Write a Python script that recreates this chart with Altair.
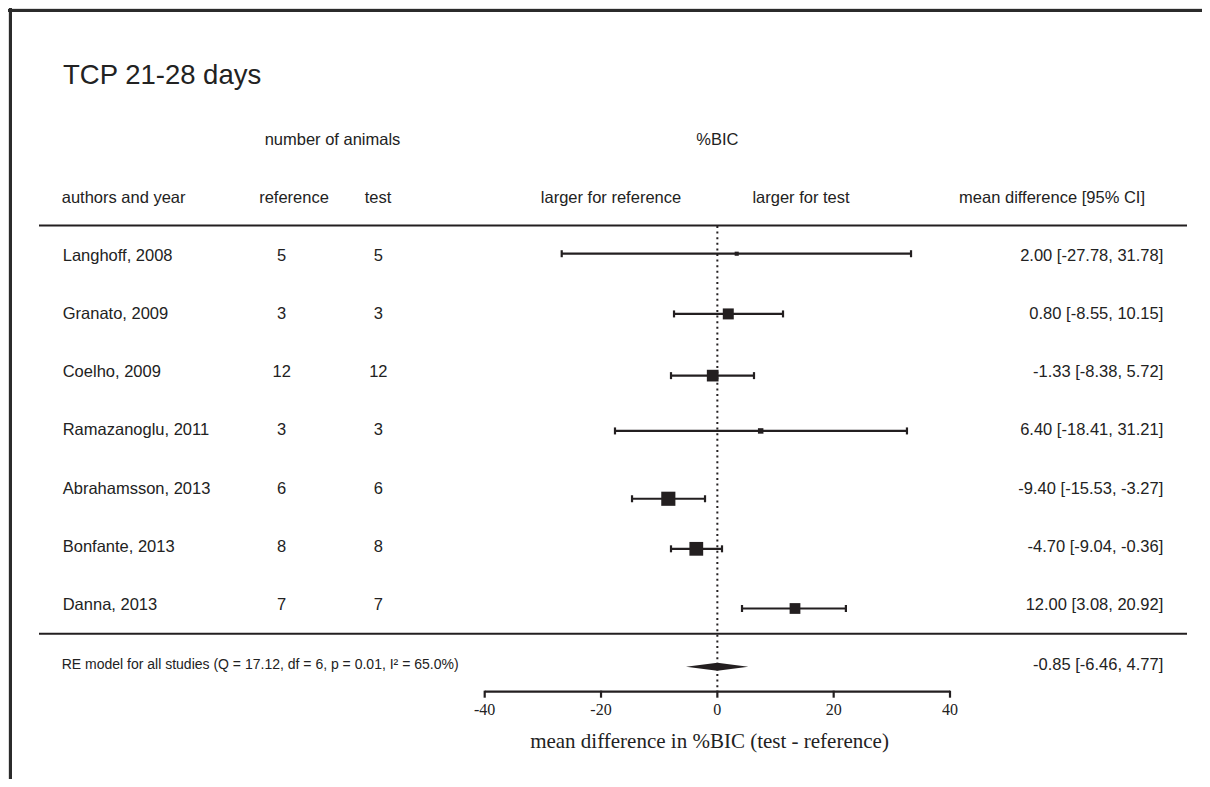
import altair as alt
import pandas as pd

# ---------------- data ----------------
studies = ["Langhoff, 2008", "Granato, 2009", "Coelho, 2009", "Ramazanoglu, 2011",
           "Abrahamsson, 2013", "Bonfante, 2013", "Danna, 2013"]
n_reference = [5, 3, 12, 3, 6, 8, 7]
n_test = [5, 3, 12, 3, 6, 8, 7]
ci_text = ["2.00 [-27.78, 31.78]", "0.80 [-8.55, 10.15]", "-1.33 [-8.38, 5.72]",
           "6.40 [-18.41, 31.21]", "-9.40 [-15.53, -3.27]", "-4.70 [-9.04, -0.36]",
           "12.00 [3.08, 20.92]"]
text_row = [1, 2, 3, 4, 5, 6, 7]
# positions of the drawn markers
estimate = [3.33, 1.88, -0.80, 7.45, -8.43, -3.62, 13.35]
ci_low = [-26.76, -7.45, -7.97, -17.60, -14.67, -7.97, 4.24]
ci_high = [33.30, 11.29, 6.30, 32.60, -2.12, 0.80, 22.10]
weight = [2.1, 14.9, 16.9, 3.7, 24.7, 23.4, 14.3]
mark_row = [0.966, 2.0, 3.06, 4.01, 5.175, 6.035, 7.06]

re_label = "RE model for all studies (Q = 17.12, df = 6, p = 0.01, I\u00b2 = 65.0%)"
re_ci_text = "-0.85 [-6.46, 4.77]"
re_text_row = 8.03
re_row = 8.06
re_estimate = 0.0
re_low = -5.39
re_high = 5.32

x_ticks = [-40, -20, 0, 20, 40]
x_tick_labels = ["-40", "-20", "0", "20", "40"]
title_text = "TCP 21-28 days"
axis_title = "mean difference in %BIC (test - reference)"

# ---------------- styling ----------------
SANS = "Liberation Sans"
SERIF = "Liberation Serif"
INK = "#231f20"
TXT = "#222222"
W, H = 1194, 771
ROW_PX = 58.22
AXIS_Y = 683.7
LW = 2.2

XS = alt.Scale(domain=[-40, 40], range=[476.7, 942.0], nice=False, zero=False)
YS = alt.Scale(domain=[1, 7], range=[247.7, 597.0], nice=False, zero=False)

df = pd.DataFrame({
    "study": studies, "nref": n_reference, "ntest": n_test, "ci": ci_text,
    "trow": text_row, "est": estimate, "lo": ci_low, "hi": ci_high,
    "w": weight, "mrow": mark_row,
})

half = 4.0 / ROW_PX
diamond = pd.DataFrame({
    "x": [re_low, re_estimate, re_high],
    "y": [re_row, re_row - half, re_row],
    "y2": [re_row, re_row + half, re_row],
})
re_df = pd.DataFrame({"label": [re_label], "ci": [re_ci_text], "row": [re_text_row]})
ticks_df = pd.DataFrame({"tick": x_ticks, "lab": x_tick_labels})
axis_df = pd.DataFrame({"a": [x_ticks[0]], "b": [x_ticks[-1]]})
zero_df = pd.DataFrame({"z": [0]})


def label(text, x, y, size, align="center", font=SANS, baseline="middle"):
    return alt.Chart(pd.DataFrame({"t": [text]})).mark_text(
        align=align, baseline=baseline, fontSize=size, font=font, color=TXT
    ).encode(x=alt.value(x), y=alt.value(y), text="t:N")


def hline(y, x1, x2, width=2, color=INK):
    return alt.Chart(pd.DataFrame({"d": [0]})).mark_rule(
        strokeWidth=width, color=color
    ).encode(x=alt.value(x1), x2=alt.value(x2), y=alt.value(y))


def vline(x, y1, y2, width=3, color=INK):
    return alt.Chart(pd.DataFrame({"d": [0]})).mark_rule(
        strokeWidth=width, color=color
    ).encode(x=alt.value(x), y=alt.value(y1), y2=alt.value(y2))


# x axis drawn from the scale
axis_line = alt.Chart(axis_df).mark_rule(strokeWidth=LW, color=INK).encode(
    x=alt.X("a:Q", scale=XS, axis=None), x2="b:Q", y=alt.value(AXIS_Y))
axis_ticks = alt.Chart(ticks_df).mark_rule(strokeWidth=LW, color=INK).encode(
    x=alt.X("tick:Q", scale=XS, axis=None), y=alt.value(AXIS_Y - 1), y2=alt.value(AXIS_Y + 6))
axis_labels = alt.Chart(ticks_df).mark_text(
    align="center", baseline="alphabetic", fontSize=16, font=SERIF, color=TXT
).encode(x=alt.X("tick:Q", scale=XS, axis=None), y=alt.value(AXIS_Y + 23.5), text="lab:N")

zero_line = alt.Chart(zero_df).mark_rule(
    strokeWidth=2, color=INK, strokeDash=[2, 3.6]
).encode(x=alt.X("z:Q", scale=XS, axis=None), y=alt.value(218), y2=alt.value(AXIS_Y))

ci_rules = alt.Chart(df).mark_rule(strokeWidth=LW, color=INK).encode(
    x=alt.X("lo:Q", scale=XS, axis=None), x2="hi:Q",
    y=alt.Y("mrow:Q", scale=YS, axis=None))
cap_lo = alt.Chart(df).mark_tick(orient="vertical", size=7, thickness=2.2, color=INK, opacity=1).encode(
    x=alt.X("lo:Q", scale=XS, axis=None), y=alt.Y("mrow:Q", scale=YS, axis=None))
cap_hi = alt.Chart(df).mark_tick(orient="vertical", size=7, thickness=2.2, color=INK, opacity=1).encode(
    x=alt.X("hi:Q", scale=XS, axis=None), y=alt.Y("mrow:Q", scale=YS, axis=None))
squares = alt.Chart(df).mark_square(filled=True, color=INK, opacity=1).encode(
    x=alt.X("est:Q", scale=XS, axis=None), y=alt.Y("mrow:Q", scale=YS, axis=None),
    size=alt.Size("w:Q", scale=alt.Scale(domain=[0, 24.7], range=[0, 200]), legend=None))

diamond_layer = alt.Chart(diamond).mark_area(orient="vertical", color=INK, opacity=1).encode(
    x=alt.X("x:Q", scale=XS, axis=None), y=alt.Y("y:Q", scale=YS, axis=None), y2="y2:Q")

BODY = 16.5
study_text = alt.Chart(df).mark_text(align="left", baseline="middle", fontSize=BODY, font=SANS, color=TXT).encode(
    x=alt.value(54.7), y=alt.Y("trow:Q", scale=YS, axis=None), text="study:N")
ref_text = alt.Chart(df).mark_text(align="center", baseline="middle", fontSize=BODY, font=SANS, color=TXT).encode(
    x=alt.value(273.7), y=alt.Y("trow:Q", scale=YS, axis=None), text="nref:N")
test_text = alt.Chart(df).mark_text(align="center", baseline="middle", fontSize=BODY, font=SANS, color=TXT).encode(
    x=alt.value(370.3), y=alt.Y("trow:Q", scale=YS, axis=None), text="ntest:N")
ci_col = alt.Chart(df).mark_text(align="right", baseline="middle", fontSize=BODY, font=SANS, color=TXT).encode(
    x=alt.value(1155.3), y=alt.Y("trow:Q", scale=YS, axis=None), text="ci:N")

re_text = alt.Chart(re_df).mark_text(align="left", baseline="middle", fontSize=14, font=SANS, color=TXT).encode(
    x=alt.value(53.7), y=alt.Y("row:Q", scale=YS, axis=None), text="label:N")
re_ci = alt.Chart(re_df).mark_text(align="right", baseline="middle", fontSize=BODY, font=SANS, color=TXT).encode(
    x=alt.value(1155.3), y=alt.Y("row:Q", scale=YS, axis=None), text="ci:N")

layers = [
    vline(2.5, 0, H, width=3, color="#2b2b2b"),
    hline(2.5, 0, W, width=3, color="#2b2b2b"),
    label(title_text, 55, 76, 27.5, align="left", baseline="alphabetic"),
    label("number of animals", 324.5, 132, BODY),
    label("%BIC", 709.3, 132, BODY),
    label("authors and year", 53.7, 190, BODY, align="left"),
    label("reference", 286, 190, BODY),
    label("test", 370, 190, BODY),
    label("larger for reference", 603, 190, BODY),
    label("larger for test", 793, 190, BODY),
    label("mean difference [95% CI]", 1137, 190, BODY, align="right"),
    hline(217.5, 31, 1179),
    hline(625.7, 31, 1179),
    zero_line,
    axis_line, axis_ticks, axis_labels,
    ci_rules, cap_lo, cap_hi, squares, diamond_layer,
    study_text, ref_text, test_text, ci_col, re_text, re_ci,
    label(axis_title, 701.5, 739.5, 21, font=SERIF, baseline="alphabetic"),
]

chart = alt.layer(*layers).properties(
    width=W, height=H, autosize=alt.AutoSizeParams(type="none"), padding=0
).configure_view(stroke=None).configure(background="white")

chart.save("out.html", embed_options={"renderer": "svg", "actions": False})
